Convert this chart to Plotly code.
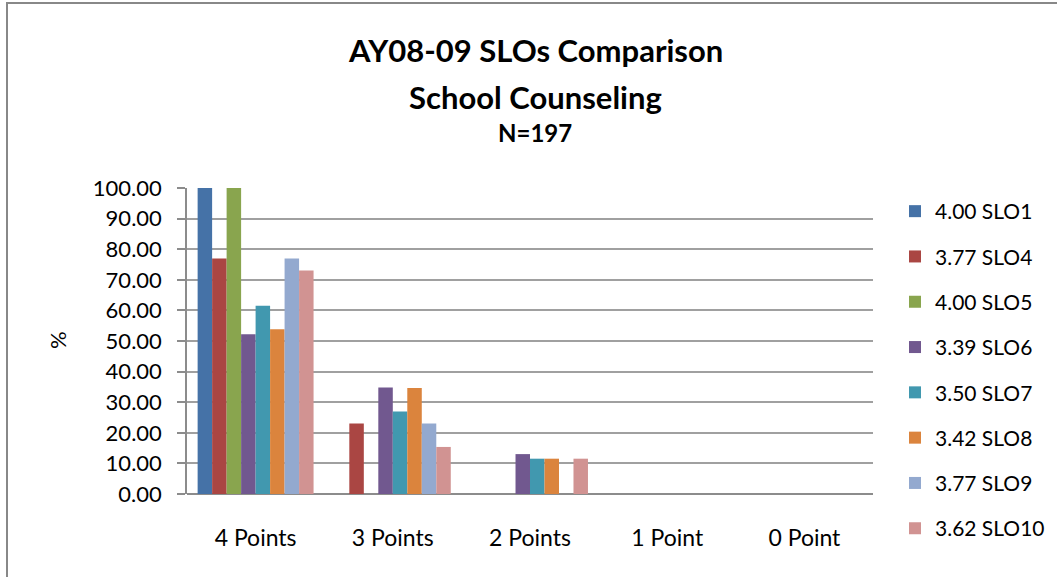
import plotly.graph_objects as go

categories = ["4 Points", "3 Points", "2 Points", "1 Point", "0 Point"]
series_names = ["4.00 SLO1", "3.77 SLO4", "4.00 SLO5", "3.39 SLO6",
                "3.50 SLO7", "3.42 SLO8", "3.77 SLO9", "3.62 SLO10"]
slo1 = [100.00, 0, 0, 0, 0]
slo4 = [76.92, 23.08, 0, 0, 0]
slo5 = [100.00, 0, 0, 0, 0]
slo6 = [52.17, 34.78, 13.04, 0, 0]
slo7 = [61.54, 26.92, 11.54, 0, 0]
slo8 = [53.85, 34.62, 11.54, 0, 0]
slo9 = [76.92, 23.08, 0, 0, 0]
slo10 = [73.08, 15.38, 11.54, 0, 0]
series_values = [slo1, slo4, slo5, slo6, slo7, slo8, slo9, slo10]
colors = ["#4572A7", "#AA4643", "#89A54E", "#71588F",
          "#4198AF", "#DB843D", "#93A9CF", "#D19392"]

FONT = "Lato, 'Open Sans', Arial, sans-serif"

W, H = 1057, 577
L, R, T, B = 187, 184, 188, 83
pw, ph = W - L - R, H - T - B

def px_x(x):
    return (x - L) / pw

def px_y(y):
    return (H - B - y) / ph

fig = go.Figure()
for name, vals, col in zip(series_names, series_values, colors):
    fig.add_trace(go.Bar(
        x=categories, y=vals, name=name, legendgroup=name,
        marker=dict(color=col, line=dict(width=0)),
    ))

fig.update_layout(
    width=W, height=H,
    margin=dict(l=L, r=R, t=T, b=B, autoexpand=False),
    paper_bgcolor="white", plot_bgcolor="white",
    barmode="group", bargap=0.155, bargroupgap=0,
    font=dict(family=FONT, color="#000000"),
    showlegend=True,
    legend=dict(
        xref="container", yref="container",
        x=895 / W, xanchor="left", y=1 - 191 / H, yanchor="top",
        font=dict(size=21, family=FONT, color="#000"),
        tracegroupgap=15, itemsizing="constant", maxheight=420,
        bgcolor="rgba(0,0,0,0)",
    ),
    xaxis=dict(
        showgrid=False, showline=False, ticks="",
        tickfont=dict(size=23, family=FONT, color="#000"),
        ticklabelstandoff=28,
    ),
    yaxis=dict(
        range=[0, 100], dtick=10, tickformat=".2f",
        showgrid=True, gridcolor="#A0A0A0", gridwidth=1.5,
        showline=True, linecolor="#8C8C8C", linewidth=1.5,
        ticks="outside", ticklen=8, tickcolor="#8C8C8C", tickwidth=1.5,
        tickfont=dict(size=22, family=FONT, color="#000"),
        ticklabelstandoff=11,
        zeroline=True, zerolinecolor="#8C8C8C", zerolinewidth=1.5,
    ),
    annotations=[
        dict(text="<b>AY08-09 SLOs Comparison</b>", x=px_x(535), y=px_y(50),
             xref="paper", yref="paper", xanchor="center", yanchor="middle",
             showarrow=False, font=dict(size=31, family=FONT, color="#000")),
        dict(text="<b>School Counseling</b>", x=px_x(535), y=px_y(97),
             xref="paper", yref="paper", xanchor="center", yanchor="middle",
             showarrow=False, font=dict(size=31, family=FONT, color="#000")),
        dict(text="<b>N=197</b>", x=px_x(535), y=px_y(132),
             xref="paper", yref="paper", xanchor="center", yanchor="middle",
             showarrow=False, font=dict(size=24, family=FONT, color="#000")),
        dict(text="%", x=px_x(57), y=px_y(340),
             xref="paper", yref="paper", xanchor="center", yanchor="middle",
             textangle=-90, showarrow=False,
             font=dict(size=22, family=FONT, color="#000")),
    ],
    shapes=[
        dict(type="rect", xref="paper", yref="paper",
             x0=px_x(7), x1=px_x(1120), y0=px_y(3), y1=px_y(640),
             line=dict(color="#888888", width=2), fillcolor="rgba(0,0,0,0)",
             layer="above"),
    ],
)

fig.write_html("out.html", config={"displayModeBar": False},
               post_script="document.body.style.margin='0';document.body.style.overflow='hidden';")
